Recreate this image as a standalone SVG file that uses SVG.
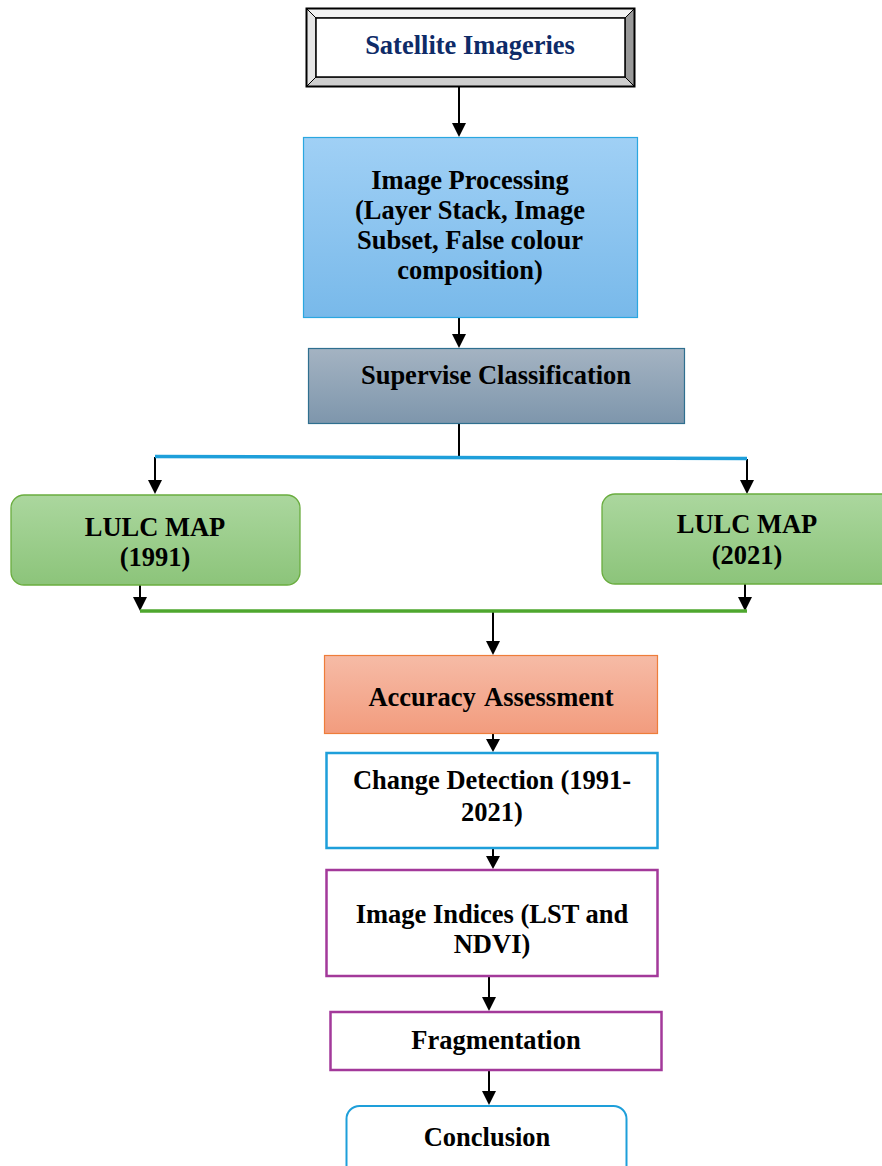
<svg xmlns="http://www.w3.org/2000/svg" width="882" height="1166" viewBox="0 0 882 1166">
  <defs>
    <linearGradient id="gBlue" x1="0" y1="0" x2="0" y2="1">
      <stop offset="0" stop-color="#a0d0f5"/>
      <stop offset="1" stop-color="#78b9ea"/>
    </linearGradient>
    <linearGradient id="gSlate" x1="0" y1="0" x2="0" y2="1">
      <stop offset="0" stop-color="#a4b3c2"/>
      <stop offset="1" stop-color="#7e96ac"/>
    </linearGradient>
    <linearGradient id="gGreen" x1="0" y1="0" x2="0" y2="1">
      <stop offset="0" stop-color="#abd79e"/>
      <stop offset="1" stop-color="#8cc47a"/>
    </linearGradient>
    <linearGradient id="gSalmon" x1="0" y1="0" x2="0" y2="1">
      <stop offset="0" stop-color="#f6bba6"/>
      <stop offset="1" stop-color="#f29c7e"/>
    </linearGradient>
  </defs>
  <style>
    text { font-family: "Liberation Serif", "Times New Roman", serif; font-weight: bold; font-size: 26.5px; fill: #000; text-anchor: middle; }
    .title { fill: #0e2b68; }
    .arrow { stroke: #000; stroke-width: 2; fill: none; }
  </style>

  <rect width="882" height="1166" fill="#fff"/>

  <!-- connectors -->
  <g id="connectors">
    <g class="arrow">
      <line x1="459" y1="87" x2="459" y2="123"/>
      <line x1="459" y1="318" x2="459" y2="334"/>
      <line x1="459" y1="424" x2="459" y2="457"/>
      <line x1="155" y1="457" x2="155" y2="480"/>
      <line x1="747" y1="459" x2="747" y2="480"/>
      <line x1="140" y1="585" x2="140" y2="597"/>
      <line x1="745" y1="584" x2="745" y2="597"/>
      <line x1="493" y1="611" x2="493" y2="641"/>
      <line x1="493" y1="733" x2="493" y2="739"/>
      <line x1="493" y1="848" x2="493" y2="856"/>
      <line x1="489" y1="976" x2="489" y2="997"/>
      <line x1="489" y1="1070" x2="489" y2="1091"/>
    </g>
    <!-- arrowheads -->
    <g fill="#000">
      <path d="M452,123 L466,123 L459,137 Z"/>
      <path d="M452,334 L466,334 L459,348 Z"/>
      <path d="M148,480 L162,480 L155,494 Z"/>
      <path d="M740,480 L754,480 L747,494 Z"/>
      <path d="M133,597 L147,597 L140,611 Z"/>
      <path d="M738,597 L752,597 L745,611 Z"/>
      <path d="M486,641 L500,641 L493,655 Z"/>
      <path d="M486,739 L500,739 L493,752 Z"/>
      <path d="M486,856 L500,856 L493,869 Z"/>
      <path d="M482,997 L496,997 L489,1011 Z"/>
      <path d="M482,1091 L496,1091 L489,1105 Z"/>
    </g>
    <!-- split bar under classification -->
    <path d="M155,456.5 L747,458.5" stroke="#1e9fda" stroke-width="3.5" fill="none"/>
    <!-- merge bar under the two maps -->
    <line x1="140" y1="611" x2="747" y2="611" stroke="#4ea72e" stroke-width="3.5"/>
  </g>

  <!-- Satellite Imageries (bevelled frame) -->
  <g id="satellite-imageries">
    <rect x="306.5" y="8.5" width="328" height="78" fill="#fff" stroke="#000" stroke-width="2"/>
    <polygon points="307,9 634,9 625,18 316,18" fill="#f2f2f2" stroke="#000" stroke-width="1"/>
    <polygon points="307,9 316,18 316,77 307,86" fill="#e6e6e6" stroke="#000" stroke-width="1"/>
    <polygon points="634,9 634,86 625,77 625,18" fill="#999" stroke="#000" stroke-width="1"/>
    <polygon points="307,86 316,77 625,77 634,86" fill="#cfcfcf" stroke="#000" stroke-width="1"/>
    <rect x="316" y="18" width="309" height="59" fill="#fff" stroke="#000" stroke-width="1.5"/>
    <text class="title" x="470" y="54">Satellite Imageries</text>
  </g>

  <!-- Image Processing -->
  <g id="image-processing">
    <rect x="303.5" y="137.5" width="334" height="180" fill="url(#gBlue)" stroke="#2aa7e0" stroke-width="1.2"/>
    <text x="470" y="189">Image Processing</text>
    <text x="470" y="219">(Layer Stack, Image</text>
    <text x="470" y="249">Subset, False colour</text>
    <text x="470" y="279">composition)</text>
  </g>

  <!-- Supervise Classification -->
  <g id="supervise-classification">
    <rect x="308.5" y="348.5" width="376" height="75" fill="url(#gSlate)" stroke="#2f6f8f" stroke-width="1.2"/>
    <text x="496" y="384">Supervise Classification</text>
  </g>

  <!-- LULC MAP 1991 -->
  <g id="lulc-1991">
    <rect x="11" y="495" width="289" height="90" rx="13" fill="url(#gGreen)" stroke="#6aad3f" stroke-width="1.3"/>
    <text x="155" y="536">LULC MAP</text>
    <text x="155" y="566">(1991)</text>
  </g>

  <!-- LULC MAP 2021 -->
  <g id="lulc-2021">
    <rect x="602" y="494" width="300" height="90" rx="13" fill="url(#gGreen)" stroke="#6aad3f" stroke-width="1.3"/>
    <text x="747" y="533">LULC MAP</text>
    <text x="747" y="564">(2021)</text>
  </g>

  <!-- Accuracy Assessment -->
  <g id="accuracy-assessment">
    <rect x="324.5" y="655.5" width="333" height="78" fill="url(#gSalmon)" stroke="#ee7d3a" stroke-width="1.2"/>
    <text x="491" y="706" word-spacing="3">Accuracy Assessment</text>
  </g>

  <!-- Change Detection -->
  <g id="change-detection">
    <rect x="326.5" y="753" width="331" height="95" fill="#fff" stroke="#1e9fda" stroke-width="2.5"/>
    <text x="492" y="789">Change Detection (1991-</text>
    <text x="492" y="821">2021)</text>
  </g>

  <!-- Image Indices -->
  <g id="image-indices">
    <rect x="326.5" y="870" width="331" height="106" fill="#fff" stroke="#a3399a" stroke-width="2.5"/>
    <text x="492" y="923">Image Indices (LST and</text>
    <text x="492" y="953">NDVI)</text>
  </g>

  <!-- Fragmentation -->
  <g id="fragmentation">
    <rect x="330.5" y="1012" width="331" height="58" fill="#fff" stroke="#a3399a" stroke-width="2.5"/>
    <text x="496" y="1049">Fragmentation</text>
  </g>

  <!-- Conclusion -->
  <g id="conclusion">
    <rect x="346.5" y="1106" width="280" height="75" rx="13" fill="#fff" stroke="#1e9fda" stroke-width="2"/>
    <text x="487" y="1146">Conclusion</text>
  </g>
</svg>
